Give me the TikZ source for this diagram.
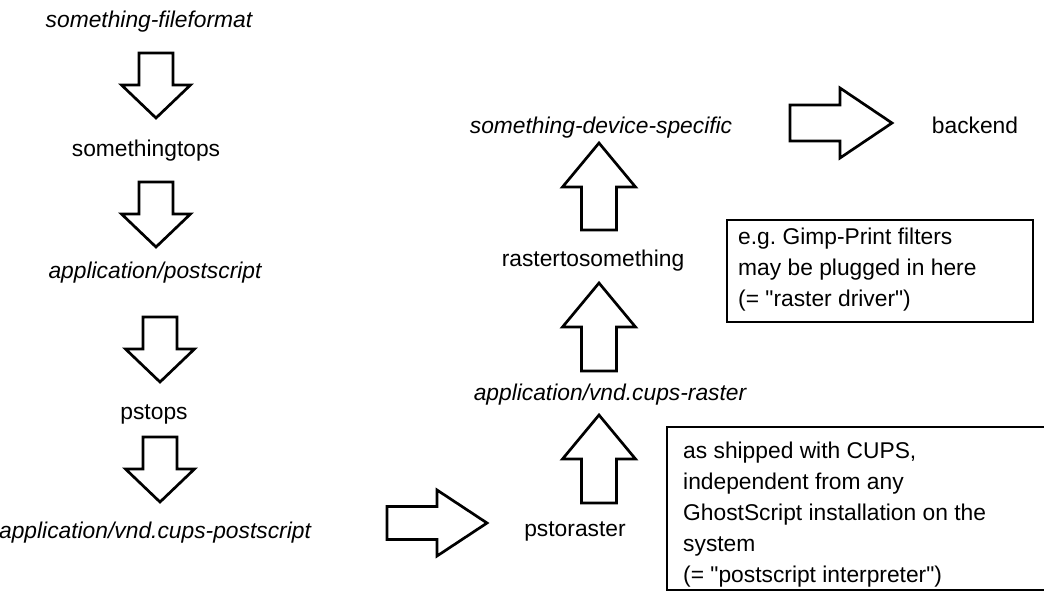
\documentclass[tikz,border=0pt]{standalone}
\usepackage{fontspec}
\setmainfont{Liberation Sans}
\frenchspacing
\begin{document}
\begin{tikzpicture}[x=1pt,y=-1pt,
  lbl/.style={inner sep=0pt,anchor=base,font=\fontsize{22.8}{30.8}\selectfont},
  itlbl/.style={lbl,font=\fontsize{22.8}{30.8}\selectfont\itshape},
  note/.style={inner sep=0pt,anchor=base west,align=left,font=\fontsize{22.8}{30.8}\selectfont\frenchspacing},
  arrowline/.style={draw=black,line width=2.7pt,line join=miter,fill=white},
  boxline/.style={draw=black,line width=2.7pt},
  pics/blockarrow/.style args={#1/#2/#3/#4}{code={
    \path[arrowline] (0,-#2/2) -- (#1-#4,-#2/2) -- (#1-#4,-#3/2) -- (#1,0)
      -- (#1-#4,#3/2) -- (#1-#4,#2/2) -- (0,#2/2) -- cycle;
  }}]
\useasboundingbox (0,0) rectangle (1044,592);
% left column
\node[itlbl] (sff) at (149,27) {something-fileformat};
\node[lbl] (stops) at (146,156) {somethingtops};
\node[itlbl] (aps) at (155,278) {application/postscript};
\node[lbl] (pstops) at (154,419) {pstops};
\node[itlbl] (avcp) at (155,538) {application/vnd.cups-postscript};
% right column
\node[lbl] (pstoraster) at (575,536) {pstoraster};
\node[itlbl] (avcr) at (610,400) {application/vnd.cups-raster};
\node[lbl] (rts) at (593,266) {rastertosomething};
\node[itlbl] (sds) at (601,133) {something-device-specific};
\node[lbl] (backend) at (975,133) {backend};
% arrows
\pic[rotate=-90] at (156,53) {blockarrow=65/34/69/33};
\pic[rotate=-90] at (156,182) {blockarrow=65/34/69/33};
\pic[rotate=-90] at (160,317) {blockarrow=65/34/69/33};
\pic[rotate=-90] at (160,437) {blockarrow=65/34/69/33};
\pic at (387,523) {blockarrow=100/33/66/50};
\pic[rotate=90] at (599,503) {blockarrow=88/35/73/44};
\pic[rotate=90] at (599,371) {blockarrow=88/35/73/44};
\pic[rotate=90] at (599,230) {blockarrow=87/35/73/44};
\pic at (790,123) {blockarrow=102/36/70/52};
% boxes
\draw[boxline] (727,220) rectangle (1033,322);
\node[note] (gimp) at (738,306) {e.g. Gimp-Print filters\\may be plugged in here\\(= \textquotedbl raster driver\textquotedbl)};
\draw[boxline] (667,427) rectangle (1070,590);
\node[note] (cups) at (683,582) {as shipped with CUPS,\\independent from any\\GhostScript installation on the\\system\\(= \textquotedbl postscript interpreter\textquotedbl)};
\end{tikzpicture}
\end{document}
